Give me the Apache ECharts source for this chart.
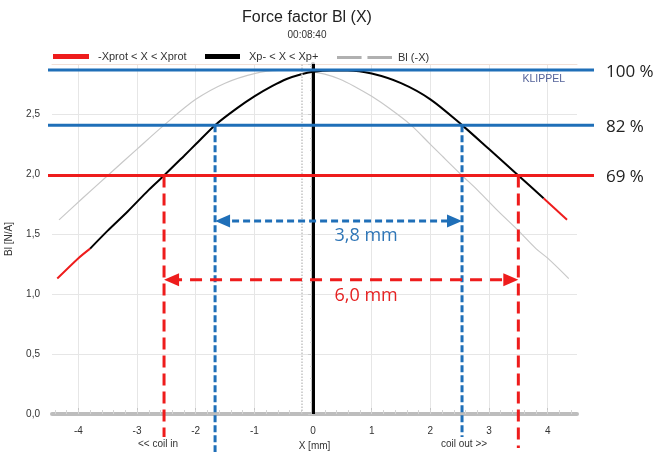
<!DOCTYPE html>
<html><head><meta charset="utf-8">
<script src="https://cdn.jsdelivr.net/npm/echarts@6/dist/echarts.min.js"></script>
<style>html,body{margin:0;padding:0;background:#fff}#c{width:655px;height:452px}</style>
</head><body><div id="c"></div>
<script>
// ---- data ----
const xMm = [-4.36, -4.0, -3.8, -3.5, -3.16, -2.8, -2.54, -2.2, -2.0, -1.67, -1.3, -1.0, -0.7, -0.45, -0.2, 0, 0.3, 0.59, 1.0, 1.5, 2.0, 2.54, 3.0, 3.5, 3.93, 4.33];
const blVals = [1.13, 1.30, 1.38, 1.53, 1.69, 1.87, 1.99, 2.153, 2.25, 2.41, 2.55, 2.65, 2.735, 2.795, 2.835, 2.855, 2.866, 2.866, 2.84, 2.76, 2.625, 2.41, 2.21, 1.99, 1.80, 1.62];
const xProt = [-3.8, 3.93];           // red / black boundary
const xTickLabels = [-4, -3, -2, -1, 0, 1, 2, 3, 4];
const refLevels = [2.87, 2.41, 1.99];  // 100 %, 82 %, 69 %
const refLabels = ['100 %', '82 %', '69 %'];
const cross82 = [-1.67, 2.54];
const cross69 = [-2.54, 3.50];
const spanLabels = ['3,8 mm', '6,0 mm'];
const arrowLevels = [1.61, 1.12];
const spanLabelPos = [[0.905, 1.483], [0.905, 0.983]];
const centerX = 0;
const dottedX = -0.2;
const names = ['-Xprot < X < Xprot', 'Xp- < X < Xp+', 'Bl (-X)'];

const BLUE = '#1f6fb8', RED = '#ee1c1c';
const FONT = 'Liberation Sans, Arial, sans-serif';
const FONT2 = 'Open Sans, sans-serif';

const pts = xMm.map((x, i) => [x, blVals[i]]);
const redLeft = pts.filter(p => p[0] <= xProt[0]);
const redRight = pts.filter(p => p[0] >= xProt[1]);
const blackMid = pts.filter(p => p[0] >= xProt[0] && p[0] <= xProt[1]);
const mirrored = pts.map(p => [-p[0], p[1]]).sort((a, b) => a[0] - b[0]);

const minorTicks = [];
for (let k = -22; k <= 22; k++) minorTicks.push(k / 5);

const chart = echarts.init(document.getElementById('c'), null, {renderer: 'canvas'});
const XMIN = -4.45, XMAX = 4.5, YMIN = 0, YMAX = 2.92;

const lineCommon = {type: 'line', showSymbol: false, smooth: 0.3, animation: false, xAxisIndex: 0, yAxisIndex: 0};

chart.setOption({
  animation: false,
  textStyle: {fontFamily: FONT},
  grid: {left: 52, right: 78, top: 64, bottom: 38, containLabel: false, outerBoundsMode: 'none'},
  legend: [
    {data: [names[0]], left: 48, top: 46, icon: 'rect', itemWidth: 36, itemHeight: 5,
      textStyle: {fontSize: 11, color: '#333', fontFamily: FONT, padding: [0, 0, 0, 4]}},
    {data: [names[1]], left: 200, top: 46, icon: 'rect', itemWidth: 35, itemHeight: 5,
      textStyle: {fontSize: 11, color: '#333', fontFamily: FONT, padding: [0, 0, 0, 4]}},
    {data: [names[2]], left: 332, top: 47, icon: 'path://M0,0h25v3h-25z M31,0h25v3h-25z', itemWidth: 55, itemHeight: 3,
      itemStyle: {color: '#b0b0b0'},
      textStyle: {fontSize: 11, color: '#333', fontFamily: FONT, padding: [0, 0, 0, 1]}}
  ],
  xAxis: [
    {type: 'value', min: XMIN, max: XMAX, position: 'bottom',
      name: 'X [mm]', nameLocation: 'middle', nameGap: 26,
      nameTextStyle: {fontSize: 10, color: '#333', fontFamily: FONT},
      axisLine: {show: true, lineStyle: {color: '#bdbdbd', width: 4}},
      axisTick: {show: true, inside: true, length: 6, customValues: xTickLabels, lineStyle: {color: '#c4c4c4'}},
      axisLabel: {customValues: xTickLabels, fontSize: 10, color: '#333', margin: 12, fontFamily: FONT},
      splitLine: {show: true, lineStyle: {color: '#e6e6e6', width: 1}}},
    {type: 'value', min: XMIN, max: XMAX, position: 'bottom',
      axisLine: {show: false}, axisLabel: {show: false}, splitLine: {show: false},
      axisTick: {show: true, inside: true, length: 4, customValues: minorTicks, lineStyle: {color: '#d4d4d4'}}},
    {type: 'value', min: XMIN, max: XMAX, position: 'top',
      axisLine: {show: true, lineStyle: {color: '#f3e0d6', width: 1}},
      axisLabel: {show: false}, axisTick: {show: false}, splitLine: {show: false}}
  ],
  yAxis: [
    {type: 'value', min: YMIN, max: YMAX, interval: 0.5,
      name: 'Bl [N/A]', nameLocation: 'middle', nameGap: 38,
      nameTextStyle: {fontSize: 10, color: '#333', fontFamily: FONT},
      axisLine: {show: true, lineStyle: {color: '#e6e6e6'}},
      axisTick: {show: true, length: 5, lineStyle: {color: '#cccccc'}},
      minorTick: {show: true, splitNumber: 5, length: 3, lineStyle: {color: '#d6d6d6'}},
      axisLabel: {fontSize: 10, color: '#333', margin: 12, showMaxLabel: false, fontFamily: FONT,
        formatter: v => v.toFixed(1).replace('.', ',')},
      splitLine: {show: true, lineStyle: {color: '#e6e6e6'}}},
    {type: 'value', min: YMIN, max: YMAX, position: 'right',
      axisLine: {show: true, lineStyle: {color: '#c4c4c4', width: 4}},
      axisLabel: {show: false}, axisTick: {show: false}, splitLine: {show: false}}
  ],
  series: [
    Object.assign({}, lineCommon, {name: names[2], data: mirrored, color: '#c8c8c8',
      lineStyle: {color: '#c8c8c8', width: 1.2}, z: 2,
      markLine: {silent: true, symbol: 'none', label: {show: false}, animation: false,
        lineStyle: {color: '#c4c4c4', width: 1.5, type: 'dotted'}, data: [{xAxis: dottedX}]}}),
    Object.assign({}, lineCommon, {name: names[0], data: redLeft, color: RED, itemStyle: {color: RED},
      lineStyle: {color: RED, width: 2}, z: 3}),
    Object.assign({}, lineCommon, {name: names[0], data: redRight, color: RED, itemStyle: {color: RED},
      lineStyle: {color: RED, width: 2}, z: 3}),
    Object.assign({}, lineCommon, {name: names[1], data: blackMid, color: '#000', itemStyle: {color: '#000'},
      lineStyle: {color: '#000', width: 2}, z: 4,
      markLine: {silent: true, symbol: 'none', label: {show: false}, animation: false,
        lineStyle: {color: '#000', width: 3, type: 'solid'}, data: [{xAxis: centerX}]}})
  ]
});

// ---- annotations positioned through the axes ----
const toPx = (x, y) => chart.convertToPixel({xAxisIndex: 0, yAxisIndex: 0}, [x, y]);
const gLeft = toPx(XMIN, 0)[0], gRight = toPx(XMAX, 0)[0], gBottom = toPx(0, YMIN)[1];
const g = [];

// text header / footer
g.push({type: 'text', x: 307, y: 18, z: 100, style: {text: 'Force factor Bl (X)', fontSize: 16, fontFamily: FONT, fill: '#222', textAlign: 'center', textVerticalAlign: 'middle'}});
g.push({type: 'text', x: 307, y: 35, z: 100, style: {text: '00:08:40', fontSize: 10, fontFamily: FONT, fill: '#333', textAlign: 'center', textVerticalAlign: 'middle'}});
g.push({type: 'text', x: gRight - 12, y: 79, z: 100, style: {text: 'KLIPPEL', fontSize: 10.5, fontFamily: FONT, fill: '#55639a', textAlign: 'right', textVerticalAlign: 'middle'}});
g.push({type: 'text', x: 158, y: 444, z: 100, style: {text: '<< coil in', fontSize: 10, fontFamily: FONT, fill: '#333', textAlign: 'center', textVerticalAlign: 'middle'}});
g.push({type: 'text', x: 464, y: 444, z: 100, style: {text: 'coil out >>', fontSize: 10, fontFamily: FONT, fill: '#333', textAlign: 'center', textVerticalAlign: 'middle'}});

// vertical dashed lines (from level crossing down past the axis); bottom extension per line
const vlines = [
  [cross82[0], refLevels[1], BLUE, [7, 3], 38],
  [cross82[1], refLevels[1], BLUE, [7, 3], 23],
  [cross69[0], refLevels[2], RED, [12, 6], 23],
  [cross69[1], refLevels[2], RED, [12, 6], 34]
];
vlines.forEach(([x, lvl, col, dash, ext]) => {
  const p = toPx(x, lvl);
  g.push({type: 'line', z: 90, shape: {x1: p[0], y1: p[1], x2: p[0], y2: gBottom + ext},
    style: {stroke: col, lineWidth: 3, lineDash: dash}});
});

// horizontal reference lines + percentage labels
refLevels.forEach((lvl, i) => {
  const y = toPx(0, lvl)[1];
  const col = i < 2 ? BLUE : RED;
  g.push({type: 'line', z: 95, shape: {x1: gLeft - 4, y1: y, x2: gRight + 17, y2: y}, style: {stroke: col, lineWidth: 3}});
  g.push({type: 'text', x: gRight + 29, y: y + 2, z: 100, style: {text: refLabels[i], fontSize: 17, fontFamily: FONT2, fill: '#222', textVerticalAlign: 'middle'}});
});

// double arrows with span labels
const arrows = [[cross82, arrowLevels[0], BLUE, [7, 4]], [cross69, arrowLevels[1], RED, [12, 8]]];
arrows.forEach(([xs, lvl, col, dash], i) => {
  const a = toPx(xs[0], lvl), b = toPx(xs[1], lvl);
  const L = 15, H = 6.5;
  g.push({type: 'line', z: 92, shape: {x1: a[0] + 6, y1: a[1], x2: b[0] - 6, y2: b[1]}, style: {stroke: col, lineWidth: 3, lineDash: dash}});
  g.push({type: 'polygon', z: 93, shape: {points: [[a[0], a[1]], [a[0] + L, a[1] - H], [a[0] + L, a[1] + H]]}, style: {fill: col}});
  g.push({type: 'polygon', z: 93, shape: {points: [[b[0], b[1]], [b[0] - L, b[1] - H], [b[0] - L, b[1] + H]]}, style: {fill: col}});
  const lp = toPx(spanLabelPos[i][0], spanLabelPos[i][1]);
  g.push({type: 'text', x: lp[0], y: lp[1], z: 100, style: {text: spanLabels[i], fontSize: 18, fontFamily: FONT2, fill: i === 0 ? '#2e75b6' : '#e52222', textAlign: 'center', textVerticalAlign: 'middle'}});
});

chart.setOption({graphic: {elements: g}});
</script>
</body></html>
